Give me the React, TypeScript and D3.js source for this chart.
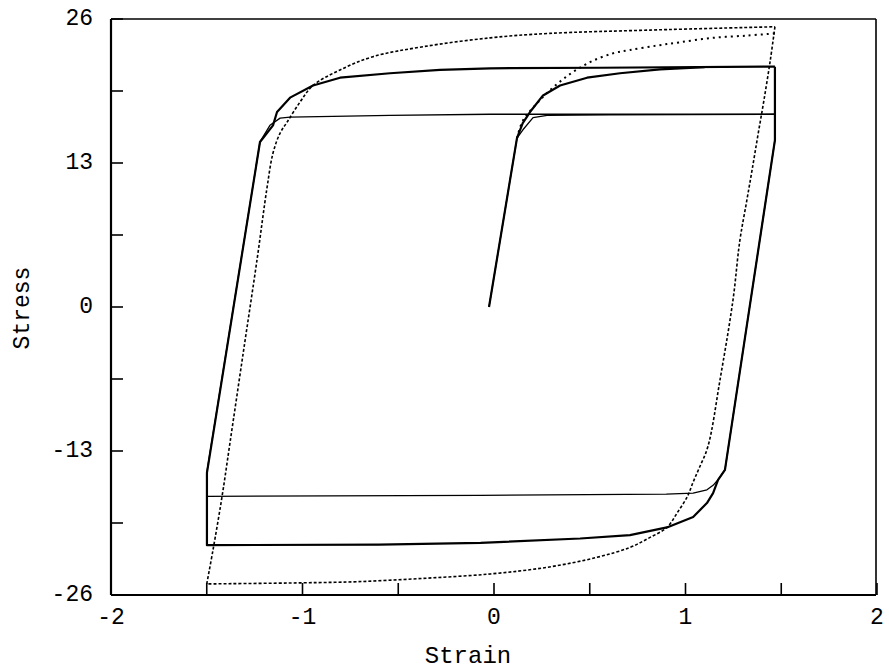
import React from "react";
import * as d3 from "d3";

type Pt = [number, number];

// Axis ticks
const xTicksMajor = [-2, -1, 0, 1, 2];
const xTicksMinor = [-1.5, -0.5, 0.5, 1.5];
const yTicksMajor = [-26, -13, 0, 13, 26];
const yTicksMinor = [-19.5, -6.5, 6.5, 19.5];

// Model A (heavy solid): monotonic loading, then full reversed cycle
const hardInitial: Pt[] = [
  [-0.026, 0], [0.12, 15.25], [0.15, 16.6], [0.188, 17.6], [0.256, 19.1],
  [0.345, 20.0], [0.486, 20.7], [0.658, 21.1], [0.867, 21.45], [1.1, 21.66],
];
const hardLoop: Pt[] = [
  [1.467, 21.7], [1.467, 15.07], [1.206, -14.7], [1.17, -15.6], [1.144, -16.8],
  [1.112, -17.7], [1.04, -18.95], [0.903, -19.9], [0.71, -20.6], [0.45, -20.9],
  [-0.07, -21.3], [-0.6, -21.45], [-1.499, -21.5], [-1.499, -14.98], [-1.222, 14.9],
  [-1.154, 16.4], [-1.133, 17.6], [-1.065, 18.9], [-0.945, 20.0], [-0.804, 20.7],
  [-0.543, 21.1], [-0.282, 21.4], [-0.02, 21.55], [0.553, 21.6], [1.467, 21.7],
];

// Model B (light solid): near-perfectly plastic response
const softInitial: Pt[] = [
  [-0.026, 0], [0.12, 15.25], [0.151, 16.0], [0.204, 17.1], [0.277, 17.3],
  [0.6, 17.35], [1.467, 17.4],
];
const softLoop: Pt[] = [
  [1.467, 17.4], [1.467, 15.07], [1.206, -14.7], [1.17, -15.6], [1.144, -16.1],
  [1.112, -16.5], [1.04, -16.8], [0.9, -16.9], [-0.073, -17.0], [-1.5, -17.1],
  [-1.5, -14.98], [-1.222, 14.9], [-1.17, 16.4], [-1.117, 17.05], [-1.065, 17.15],
  [-0.543, 17.3], [-0.02, 17.4], [1.467, 17.4],
];

// Model C (broken line): smooth nonlinear hardening
const smoothInitial: Pt[] = [
  [0.12, 15.25], [0.15, 16.8], [0.204, 18.0], [0.282, 19.4], [0.386, 20.9],
  [0.501, 22.1], [0.621, 22.9], [0.71, 23.2], [0.851, 23.6], [0.971, 23.9],
  [1.144, 24.3], [1.321, 24.5], [1.467, 24.7],
];
const smoothDown: Pt[] = [
  [1.467, 25.3], [1.443, 22.3], [1.41, 18.7], [1.38, 15.7], [1.35, 12.6],
  [1.32, 9.6], [1.283, 5.9], [1.248, 0.63], [1.18, -6.6], [1.117, -12.6],
  [1.07, -14.6], [1.04, -15.8], [1.01, -17.1], [0.956, -18.6], [0.903, -19.9],
  [0.815, -20.8], [0.71, -21.7], [0.538, -22.6], [0.277, -23.5], [-0.02, -24.1],
  [-0.37, -24.5], [-0.715, -24.8], [-1.0, -24.9], [-1.5, -25.0],
];
const smoothUp: Pt[] = [
  [-1.5, -25.0], [-1.467, -21.9], [-1.42, -17.1], [-1.379, -12.3], [-1.31, -4.2],
  [-1.238, 4.2], [-1.185, 10.8], [-1.154, 13.9], [-1.117, 15.7], [-1.08, 16.7],
  [-1.013, 18.5], [-0.945, 20.0], [-0.804, 21.4], [-0.632, 22.6], [-0.37, 23.5],
  [-0.02, 24.3], [0.29, 24.7], [0.815, 25.0], [1.467, 25.3],
];

const W = 889;
const H = 671;
const left = 111;
const right = 876;
const top = 19;
const bottom = 595;
const font = "'Liberation Mono', 'DejaVu Sans Mono', monospace";

export default function App() {
  const x = d3.scaleLinear().domain([-2, 2]).range([left, 877]);
  const y = d3.scaleLinear().domain([-26, 26]).range([bottom, top]);

  const straight = d3
    .line<Pt>()
    .x((d) => x(d[0]))
    .y((d) => y(d[1]))
    .curve(d3.curveLinear);
  const smooth = d3
    .line<Pt>()
    .x((d) => x(d[0]))
    .y((d) => y(d[1]))
    .curve(d3.curveCatmullRom.alpha(0.5));

  const tickLen = 12;

  return (
    <svg
      width={W}
      height={H}
      viewBox={`0 0 ${W} ${H}`}
      style={{ position: "absolute", left: 0, top: 0, background: "#fff" }}
    >
      <rect x={0} y={0} width={W} height={H} fill="#fff" />

      {/* frame */}
      <line x1={left} y1={top} x2={right} y2={top} stroke="#000" strokeWidth={1.6} />
      <line x1={right} y1={top} x2={right} y2={bottom} stroke="#000" strokeWidth={1.6} />
      <line x1={left} y1={top} x2={left} y2={bottom} stroke="#000" strokeWidth={2.2} />
      <line x1={left} y1={bottom} x2={right} y2={bottom} stroke="#000" strokeWidth={2.2} />

      {/* y ticks */}
      {[...yTicksMajor, ...yTicksMinor].map((t) => (
        <line
          key={`yt${t}`}
          x1={left}
          x2={left + tickLen}
          y1={y(t)}
          y2={y(t)}
          stroke="#000"
          strokeWidth={1.6}
        />
      ))}
      {yTicksMajor.map((t) => (
        <text
          key={`yl${t}`}
          x={93}
          y={y(t)}
          textAnchor="end"
          dominantBaseline="central"
          fontFamily={font}
          fontSize={23}
          fill="#000"
        >
          {t}
        </text>
      ))}

      {/* x ticks */}
      {[...xTicksMajor, ...xTicksMinor].map((t) => (
        <line
          key={`xt${t}`}
          x1={x(t)}
          x2={x(t)}
          y1={bottom}
          y2={bottom - tickLen}
          stroke="#000"
          strokeWidth={1.6}
        />
      ))}
      {xTicksMajor.map((t) => (
        <text
          key={`xl${t}`}
          x={x(t)}
          y={624}
          textAnchor="middle"
          fontFamily={font}
          fontSize={23}
          fill="#000"
        >
          {t}
        </text>
      ))}

      {/* axis titles */}
      <text
        x={468}
        y={663}
        textAnchor="middle"
        fontFamily={font}
        fontSize={24}
        fill="#000"
      >
        Strain
      </text>
      <text
        transform={`translate(29, 308) rotate(-90)`}
        textAnchor="middle"
        fontFamily={font}
        fontSize={23}
        fill="#000"
      >
        Stress
      </text>

      {/* curves */}
      <g fill="none" stroke="#000" strokeLinejoin="round">
        <path d={smooth(smoothInitial) ?? ""} strokeWidth={2} strokeDasharray="2 4" />
        <path d={smooth(smoothDown) ?? ""} strokeWidth={1.6} strokeDasharray="3 2" />
        <path d={smooth(smoothUp) ?? ""} strokeWidth={1.6} strokeDasharray="3 2" />
        <path d={straight(softInitial) ?? ""} strokeWidth={1.3} />
        <path d={straight(softLoop) ?? ""} strokeWidth={1.3} />
        <path d={straight(hardInitial) ?? ""} strokeWidth={2.2} />
        <path d={straight(hardLoop) ?? ""} strokeWidth={2.2} />
      </g>
    </svg>
  );
}
